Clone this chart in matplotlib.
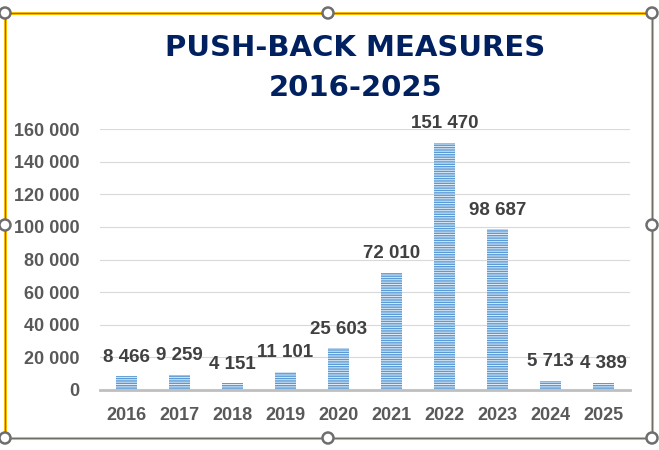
import matplotlib.pyplot as plt
from matplotlib.patches import Circle
from matplotlib.lines import Line2D

years = ["2016", "2017", "2018", "2019", "2020", "2021", "2022", "2023", "2024", "2025"]
values = [8466, 9259, 4151, 11101, 25603, 72010, 151470, 98687, 5713, 4389]
yticks = [0, 20000, 40000, 60000, 80000, 100000, 120000, 140000, 160000]


def fmt(v):
    return f"{v:,}".replace(",", " ")


W, H = 659, 450
plt.rcParams["font.family"] = ["Liberation Sans", "DejaVu Sans"]
plt.rcParams["hatch.color"] = "#E3EEF9"
plt.rcParams["hatch.linewidth"] = 0.7
fig = plt.figure(figsize=(W / 100, H / 100), dpi=100)

# plot area in pixels: x 100..630, y(0)=390, y(160000)=129
ax = fig.add_axes([100 / W, 1 - 390 / H, 530 / W, (390 - 129) / H])
x = range(len(years))
ax.bar(x, values, width=0.38, color="#5B9BD5", hatch="-------", edgecolor="#E3EEF9", linewidth=0)
for xi, v in zip(x, values):
    ax.annotate(fmt(v), (xi, v), xytext=(0, 7.5), textcoords="offset points",
                ha="center", va="bottom", fontsize=13.5, fontweight="bold",
                color="#404040", annotation_clip=False)

ax.set_xlim(-0.5, len(years) - 0.5)
ax.set_ylim(0, 160000)
ax.set_yticks(yticks)
ax.set_yticklabels([fmt(t) for t in yticks])
ax.set_xticks(list(x))
ax.set_xticklabels(years)
ax.tick_params(axis="both", length=0, labelsize=13, labelcolor="#595959")
ax.tick_params(axis="x", pad=12)
ax.tick_params(axis="y", pad=15)
for lab in ax.get_xticklabels() + ax.get_yticklabels():
    lab.set_fontweight("bold")
ax.grid(axis="y", color="#D9D9D9", linewidth=0.8)
ax.set_axisbelow(True)
for s in ["top", "right", "left"]:
    ax.spines[s].set_visible(False)
ax.spines["bottom"].set_color("#BFBFBF")
ax.spines["bottom"].set_linewidth(2)

fig.text(355.5 / W, 1 - 56 / H, "PUSH-BACK MEASURES", ha="center", va="baseline",
         fontsize=21, fontweight="bold", color="#002060", family="DejaVu Sans")
fig.text(355.5 / W, 1 - 96 / H, "2016-2025", ha="center", va="baseline",
         fontsize=21, fontweight="bold", color="#002060", family="DejaVu Sans")

# selection frame with handles
L, R, T, B = 5, 652, 13, 438


def fx(px):
    return px / W


def fy(py):
    return 1 - py / H


for xs, ys in [([L, R], [T, T]), ([L, R], [B, B]), ([L, L], [T, B]), ([R, R], [T, B])]:
    fig.add_artist(Line2D([fx(v) for v in xs], [fy(v) for v in ys], color="#FFC000", lw=2.2))
    fig.add_artist(Line2D([fx(v) for v in xs], [fy(v) for v in ys], color="#6E6E6E", lw=0.8))
for hx, hy in [(L, T), (328, T), (R, T), (L, 225), (R, 225), (L, B), (328, B), (R, B)]:
    fig.add_artist(Circle((hx, H - hy), 5.5, transform=None, facecolor="white",
                          edgecolor="#6E6E6E", lw=1.8, zorder=10))

fig.savefig("out.png", dpi=100)
